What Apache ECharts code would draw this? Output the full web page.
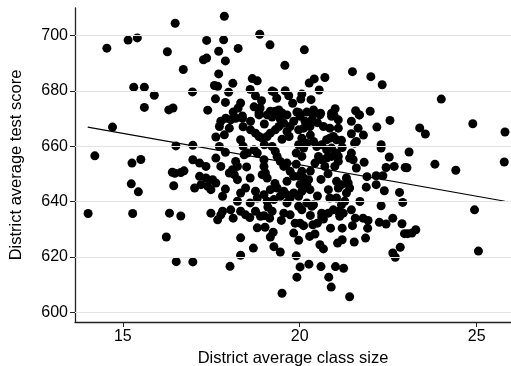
<!DOCTYPE html>
<html>
<head>
<meta charset="utf-8">
<script src="https://cdn.jsdelivr.net/npm/echarts@6/dist/echarts.min.js"></script>
<style>
  html, body { margin: 0; padding: 0; background: #fff; }
  #main { width: 511px; height: 366px; }
</style>
</head>
<body>
<div id="main"></div>
<script>
// district scatter: [class size, test score]
const districts = [
  [16.48,704.4],[15.15,698.3],[15.41,699.1],[14.55,695.4],[16.26,694.1],[16.71,687.7],[15.31,681.3],[15.61,681.3],
  [15.89,678.4],[15.61,674.0],[16.30,673.1],[16.42,673.8],
  [17.87,706.9],[18.87,700.4],[17.37,698.2],[17.85,698.4],[19.16,696.6],[18.26,695.3],[17.71,694.3],[17.28,691.2],
  [17.37,691.8],[17.90,690.8],[19.58,689.2],[17.71,686.1],[18.66,684.4],[18.80,683.6],[18.11,682.7],[17.59,681.9],
  [17.68,681.6],[16.97,679.6],[18.60,680.5],[17.99,679.5],[19.22,679.9],[19.27,679.6],[19.59,680.0],[19.69,678.2],
  [18.75,678.2],[18.92,676.4],[19.35,677.3],[17.62,677.1],[17.90,675.8],[18.71,674.2],[18.88,673.8],[18.33,675.6],
  [18.26,673.8],[18.12,672.3],[18.85,672.2],[19.17,672.6],[19.31,672.6],[19.41,673.1],[19.50,672.0],[19.27,671.3],
  [19.92,672.3],[18.38,670.9],
  [20.13,694.8],[21.49,686.9],[22.01,685.1],[22.33,682.2],[20.71,684.8],[20.41,684.3],[20.27,682.8],[20.55,680.3],
  [20.06,678.8],[20.03,677.0],[20.32,676.8],[19.97,672.2],[20.20,672.3],[20.39,673.1],[20.37,671.6],[20.59,671.9],
  [20.90,671.9],[20.97,671.1],[21.58,672.8],[21.68,671.3],[21.99,672.6],
  [24.00,677.0],
  [14.71,666.9],[14.21,656.5],[16.50,660.1],[15.26,653.9],[15.51,655.2],[16.40,650.6],[16.47,650.2],[16.64,650.5],
  [16.73,651.1],[15.24,646.4],[15.44,643.5],[16.44,645.7],[14.02,635.7],[15.28,635.7],[16.32,635.8],[16.64,634.8],
  [16.23,627.2],[16.51,618.3],
  [23.39,666.6],[23.55,664.4],[24.89,668.1],[25.80,665.1],[23.09,657.9],[23.03,652.2],[23.82,653.5],[24.41,651.3],
  [25.78,654.3],[24.94,637.0],
  [23.28,629.8],[23.05,628.4],[23.17,628.6],[25.05,622.1],
  [16.98,618.2],[18.03,616.6],[18.33,620.6],[18.33,626.9],[18.69,623.2],[19.50,606.9],[18.12,634.0],[18.59,634.2],
  [17.68,633.4],[17.49,635.8],[17.77,635.2],[18.99,634.9],[19.15,634.0],[19.48,633.2],[19.02,630.7],[19.25,628.9],
  [19.17,627.2],[19.27,623.7],[19.45,621.8],[19.83,628.6],[19.87,632.2],[19.90,620.4],[19.92,612.7],
  [19.97,626.0],[20.01,616.4],[20.26,617.4],[20.60,616.5],[20.82,612.7],[20.89,609.1],[21.01,616.5],[21.24,615.9],
  [21.41,605.6],[20.01,632.2],[20.11,631.3],[20.28,627.4],[20.43,628.3],[20.37,631.6],[20.50,632.2],[20.57,624.4],
  [20.67,622.9],[20.87,630.4],[21.20,630.4],[21.07,625.0],[21.20,626.2],[21.54,625.4],[21.86,626.8],[21.49,631.3],
  [21.57,634.0],[21.79,634.0],[21.93,633.2],[21.92,630.4],[22.25,632.5],[22.44,631.9],[22.63,634.0],[22.89,632.0],
  [22.96,628.4],[22.84,623.5],[22.63,621.4],[22.70,619.9],[20.62,634.4],[20.67,633.7],[21.13,634.7],
  [16.98,660.3],[17.77,669.0],[17.73,667.1],[17.91,670.1],[18.05,669.5],[18.19,670.1],[18.38,670.1],[18.61,669.0],
  [18.85,671.3],[19.08,671.3],[19.22,670.5],[19.45,669.8],[19.64,671.3],[18.01,666.5],[17.87,664.1],[17.63,663.3],
  [18.33,662.3],[18.61,665.9],[18.75,664.7],[18.85,663.5],[18.94,662.9],[19.08,663.5],[19.17,664.7],[19.31,665.9],
  [19.41,667.1],[19.55,668.3],[19.64,665.3],[19.73,667.1],[19.83,669.0],[17.73,659.9],[18.52,657.5],[18.71,658.7],
  [18.80,657.5],[18.43,656.9],[19.22,659.9],[19.31,658.1],[19.36,656.3],[19.45,654.5],[19.55,652.7],[16.98,655.1],
  [17.17,653.9],[17.35,652.7],[17.63,655.7],[17.77,652.7],[18.19,654.5],[18.24,652.7],[18.10,651.5],[18.01,650.3],
  [18.15,649.7],[18.24,647.9],[18.99,655.1],[18.99,652.7],[19.03,650.3],[18.94,649.7],[19.08,648.5],[19.64,653.9],
  [19.73,650.9],[19.83,649.1],[19.64,647.3],[17.17,649.1],[17.35,648.5],[17.54,647.9],[17.63,646.7],[17.03,644.9],
  [17.21,646.1],[17.40,645.5],[17.49,644.3],[17.82,641.9],[18.33,643.1],[18.24,640.1],[18.47,644.9],[18.75,643.7],
  [18.80,641.3],[18.99,642.5],[19.17,644.3],[19.36,644.9],[19.55,643.7],[19.64,642.5],[19.73,641.3],[19.83,643.1],
  [19.08,640.1],[19.27,640.7],[19.45,641.9],[19.64,639.5],[17.82,636.5],[18.05,637.0],[18.33,636.5],[18.47,635.2],
  [18.75,636.5],[18.89,634.7],[19.22,636.5],[19.55,635.8],[19.73,635.2],
  [20.01,670.8],[20.15,669.0],[20.34,669.5],[20.57,671.3],[20.90,670.8],[21.09,669.5],[19.97,665.9],[20.11,666.5],
  [20.29,667.1],[20.06,662.9],[19.97,660.5],[20.20,661.1],[20.39,661.7],[20.48,659.9],[20.62,660.5],[20.76,662.3],
  [20.85,662.9],[20.95,663.5],[21.04,662.3],[20.67,667.1],[20.85,666.5],[21.09,666.5],[20.90,659.3],[20.76,658.7],
  [21.04,657.5],[21.09,656.3],[20.53,656.3],[20.62,655.1],[20.76,655.7],[20.90,656.3],[20.11,659.3],[20.06,656.3],
  [20.43,653.9],[20.71,652.7],[20.99,652.7],[21.09,654.5],
  [21.46,669.0],[21.65,666.5],[21.46,664.5],[21.18,662.1],[21.60,661.7],[21.55,661.1],[21.69,671.3],[22.18,666.9],
  [22.55,669.3],[22.30,660.5],[22.30,659.3],[21.46,657.5],[21.41,655.7],[21.51,655.1],[21.82,654.2],[21.60,652.1],
  [22.53,656.1],[22.44,652.3],[22.67,652.7],[22.98,652.3],[22.16,649.3],[22.35,649.3],[22.16,646.1],[21.88,645.2],
  [22.39,643.9],[22.82,643.3],[22.30,638.5],[22.91,639.7],
  [20.06,650.9],[19.97,649.1],[20.11,648.5],[20.25,647.9],[20.01,646.1],[20.20,646.1],[20.06,643.7],[20.29,644.3],
  [19.97,641.9],[20.81,644.3],[21.04,647.3],[21.18,646.1],[21.09,644.9],[20.85,641.3],[21.04,641.3],[21.32,648.5],
  [21.37,646.7],[21.41,644.9],[21.32,643.1],[21.27,640.1],[21.18,638.8],[21.09,636.5],[20.95,637.0],[20.81,635.8],
  [20.62,635.8],[20.39,638.8],[20.20,639.5],[20.34,638.3],[20.06,637.0],[19.97,638.3],[21.23,635.8],[21.46,637.0],
  // denser middle, partly hidden under other dots
  [19.00,660.5],[19.90,657.5],[20.30,664.0],[19.50,662.5],[18.40,660.0],[19.90,653.5],[20.30,651.0],[20.60,648.0],
  [19.30,646.5],[18.60,648.5],[18.50,652.5],[17.90,657.8],[19.10,638.0],[18.60,639.5],[20.50,642.0],[20.80,650.0],
  [21.20,659.5],[21.80,664.0],[21.00,673.5],[19.80,675.5],[18.40,667.0],[17.40,673.0],[18.80,630.5],[20.30,635.0],
  [21.70,640.0],[21.90,649.0],[17.90,644.5],[19.70,663.5],[20.50,668.5],[19.00,668.0]
];

// fitted line, end points
const fitLine = [[14.01, 666.9], [25.80, 640.1]];

const xTicks = [15, 20, 25];
const yTicks = [600, 620, 640, 660, 680, 700];

const chart = echarts.init(document.getElementById('main'));
const textFont = 'Liberation Sans, Arial, sans-serif';

chart.setOption({
  animation: false,
  grid: { left: 75, right: 0, top: 8, bottom: 44, containLabel: false, outerBoundsMode: 'none' },
  xAxis: {
    type: 'value',
    min: 13.65,
    max: 25.97,
    name: 'District average class size',
    nameLocation: 'middle',
    nameGap: 25,
    nameTextStyle: { color: '#000', fontSize: 16.5, fontFamily: textFont },
    axisLine: { onZero: false, lineStyle: { color: '#222', width: 1.3 } },
    axisTick: { show: true, length: 5, customValues: xTicks, lineStyle: { color: '#222' } },
    axisLabel: { customValues: xTicks, color: '#000', fontSize: 16, fontFamily: textFont, margin: 7 },
    splitLine: { show: false }
  },
  yAxis: {
    type: 'value',
    min: 596.5,
    max: 709.9,
    name: 'District average test score',
    nameLocation: 'middle',
    nameGap: 50,
    nameTextStyle: { color: '#000', fontSize: 16.5, fontFamily: textFont },
    axisLine: { show: true, lineStyle: { color: '#222', width: 1.3 } },
    axisTick: { show: true, length: 5, customValues: yTicks, lineStyle: { color: '#222' } },
    axisLabel: { customValues: yTicks, color: '#000', fontSize: 16, fontFamily: textFont, margin: 7 },
    splitLine: { show: false }
  },
  series: [
    {
      type: 'scatter',
      data: districts,
      symbolSize: 9,
      itemStyle: { color: '#000', opacity: 1 },
      markLine: {
        silent: true,
        symbol: 'none',
        label: { show: false },
        lineStyle: { color: '#e3e3e3', width: 1, type: 'solid' },
        data: yTicks.map(v => ({ yAxis: v }))
      },
      z: 3
    },
    {
      type: 'line',
      data: fitLine,
      symbol: 'none',
      lineStyle: { color: '#000', width: 1.2 },
      z: 4
    }
  ]
});
</script>
</body>
</html>
